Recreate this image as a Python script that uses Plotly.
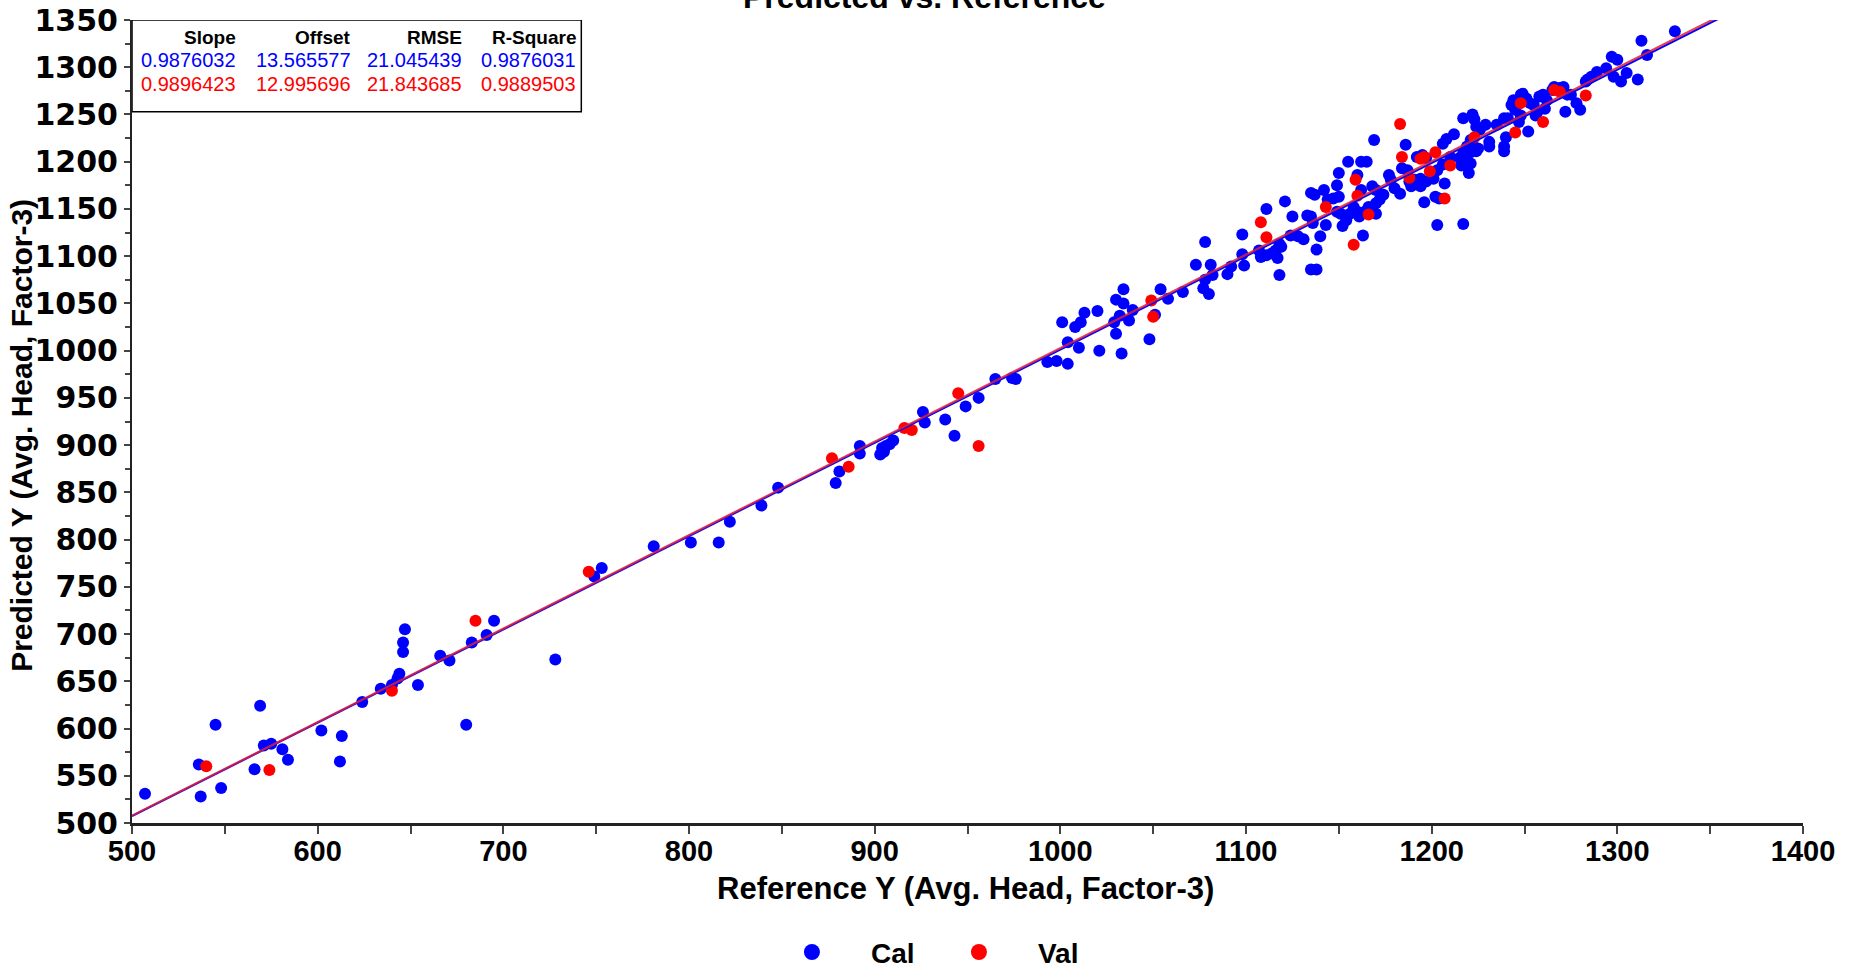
import plotly.graph_objects as go

# ---------------- data ----------------
cal_x = [507, 536, 537, 545, 548, 566, 569, 571, 575, 581, 584, 602, 613, 612, 624, 634, 640, 643, 644, 646,
         646, 647, 654, 666, 671, 680, 683, 691, 695, 728,
         749, 753, 781, 801, 816, 822, 839, 848, 881, 879, 892, 892, 903, 904, 906, 908, 910, 905, 926, 927,
         938, 943,
         949, 956, 965, 974, 976, 993, 998, 1004, 1004, 1001, 1008, 1011, 1013, 1010, 1020, 1021, 1030, 1029,
         1030, 1032, 1034, 1034, 1033, 1037, 1039, 1051, 1048, 1054, 1058, 1066, 1073, 1078, 1081, 1077, 1080,
         1078, 1082, 1090, 1092, 1099, 1098, 1098, 1111, 1107, 1108, 1111, 1114, 1116, 1118, 1118,
         1119, 1117, 1121, 1125, 1124, 1128, 1131, 1133, 1135, 1135, 1137, 1135, 1138, 1138, 1140, 1136, 1142,
         1144, 1143, 1147, 1150, 1149, 1151, 1150, 1149, 1155, 1152, 1154, 1156, 1158, 1160, 1162, 1165, 1163,
         1161, 1160, 1164, 1166, 1162, 1169, 1168, 1170, 1170, 1172, 1174, 1170, 1177, 1178, 1180, 1183, 1184,
         1187, 1186, 1188, 1189, 1191, 1194, 1192, 1195, 1197, 1196, 1194, 1197, 1201, 1203, 1202, 1204, 1207,
         1203, 1206, 1206, 1208, 1212, 1210, 1215, 1216, 1219, 1221, 1217, 1217, 1220, 1222, 1224, 1222,
         1223, 1221, 1219, 1217, 1218, 1221, 1224, 1225, 1226, 1229, 1231, 1231, 1235, 1239, 1239, 1239, 1240,
         1241, 1243, 1244, 1245, 1247, 1248, 1248, 1249, 1251, 1252, 1253, 1255, 1256, 1257, 1258, 1260, 1261,
         1262, 1265, 1266, 1269, 1271, 1273, 1272, 1275, 1278, 1280, 1283, 1284, 1286, 1289, 1294, 1297, 1300,
         1298, 1302, 1305, 1311, 1313, 1316, 1331]
cal_y = [531, 562, 528, 604, 537, 557, 624, 582, 584, 578, 567, 598, 592, 565, 628, 642, 646, 653, 658, 681,
         691, 705, 646, 677, 672, 604, 691, 699, 714, 673,
         761, 770, 793, 797, 797, 819, 836, 855, 872, 860, 899, 891, 890, 897, 899, 901, 905, 893, 935, 924,
         927, 910,
         941, 950, 970, 971, 970, 988, 989, 986, 1009, 1030, 1025, 1030, 1040, 1003, 1042, 1000, 1018, 1030,
         1054, 1037, 1065, 1050, 997, 1032, 1043, 1038, 1012, 1065, 1055, 1062, 1091, 1115, 1091, 1066, 1060,
         1075, 1080, 1081, 1089, 1090, 1123, 1102, 1150, 1106, 1099, 1101, 1103, 1106, 1113, 1080,
         1110, 1098, 1158, 1142, 1122, 1121, 1118, 1143, 1142, 1167, 1165, 1086, 1086, 1107, 1121, 1135, 1170,
         1160, 1133, 1161, 1163, 1147, 1145, 1188, 1175, 1200, 1132, 1138, 1145, 1152, 1186, 1200, 1200, 1122,
         1142, 1147, 1147, 1152, 1170, 1223, 1174, 1170, 1156, 1160, 1165, 1145, 1186, 1181, 1172, 1166, 1193,
         1191, 1218, 1179, 1174, 1181, 1182, 1205, 1207, 1204, 1157, 1174, 1179, 1182, 1133, 1163, 1161, 1177,
         1191, 1197, 1219, 1224, 1229, 1205, 1204, 1196, 1202, 1210, 1246, 1134, 1188, 1250, 1237, 1218,
         1245, 1223, 1216, 1209, 1202, 1198, 1211, 1214, 1234, 1239, 1221, 1216, 1239, 1246, 1216, 1211, 1226,
         1246, 1260, 1265, 1255, 1242, 1249, 1271, 1272, 1267, 1232, 1262, 1260, 1249, 1253, 1269, 1271, 1256,
         1265, 1276, 1279, 1278, 1279, 1271, 1253, 1271, 1262, 1255, 1285, 1287, 1290, 1295, 1299, 1311, 1308,
         1290, 1285, 1294, 1287, 1328, 1313, 1338]

val_x = [540, 574, 640, 685, 746, 877, 886, 916, 920, 945, 956, 1049, 1050, 1108, 1111, 1143, 1159, 1160,
         1158, 1166, 1183, 1184, 1188, 1194, 1196, 1199, 1202, 1207, 1210, 1223, 1248, 1245, 1260, 1266,
         1269, 1283]
val_y = [560, 556, 640, 714, 766, 886, 877, 918, 916, 955, 899, 1053, 1036, 1136, 1120, 1152, 1181, 1164,
         1112, 1144, 1240, 1205, 1183, 1203, 1205, 1190, 1210, 1161, 1196, 1226, 1262, 1231, 1242, 1276,
         1274, 1270]

series_names = ["Cal", "Val"]
stat_headers = ["Slope", "Offset", "RMSE", "R-Square"]
cal_stats = ["0.9876032", "13.565577", "21.045439", "0.9876031"]
val_stats = ["0.9896423", "12.995696", "21.843685", "0.9889503"]
cal_slope, cal_offset = 0.9876032, 13.565577
val_slope, val_offset = 0.9896423, 12.995696

x_range = [500, 1400]
y_range = [500, 1350]

title_text = "Predicted vs. Reference"
x_title = "Reference Y (Avg. Head, Factor-3)"
y_title = "Predicted Y (Avg. Head, Factor-3)"

# ---------------- figure ----------------
BLUE = "#0000ff"
RED = "#ff0000"
SANS = "Liberation Sans, Arial, sans-serif"

fig = go.Figure()

fig.add_trace(go.Scatter(x=cal_x, y=cal_y, mode="markers", name=series_names[0],
                         marker=dict(color=BLUE, size=12), showlegend=False))
fig.add_trace(go.Scatter(x=val_x, y=val_y, mode="markers", name=series_names[1],
                         marker=dict(color=RED, size=12), showlegend=False))

# regression lines
lx = x_range
fig.add_trace(go.Scatter(x=lx, y=[cal_slope * v + cal_offset for v in lx], mode="lines",
                         line=dict(color=BLUE, width=2), showlegend=False, hoverinfo="skip"))
fig.add_trace(go.Scatter(x=lx, y=[val_slope * v + val_offset for v in lx], mode="lines",
                         line=dict(color="rgba(220,30,60,0.85)", width=2.2), showlegend=False,
                         hoverinfo="skip"))

# legend entries
fig.add_trace(go.Scatter(x=[None], y=[None], mode="markers", name=series_names[0],
                         marker=dict(color=BLUE, size=20)))
fig.add_trace(go.Scatter(x=[None], y=[None], mode="markers", name=series_names[1],
                         marker=dict(color=RED, size=20)))

# stats box
fig.add_shape(type="rect", xref="x", yref="y", x0=500, x1=742, y0=1253, y1=1350,
              line=dict(color="black", width=1.5), fillcolor="white", layer="above")

col_right = [557, 619, 679, 740]
row_y = [1331, 1308, 1282]
for i in range(4):
    fig.add_annotation(x=col_right[i], y=row_y[0], xref="x", yref="y", text=stat_headers[i],
                       showarrow=False, xanchor="right", yanchor="middle",
                       font=dict(family=SANS, size=19, color="black", weight="bold"))
    fig.add_annotation(x=col_right[i], y=row_y[1], xref="x", yref="y", text=cal_stats[i],
                       showarrow=False, xanchor="right", yanchor="middle",
                       font=dict(family=SANS, size=20, color=BLUE))
    fig.add_annotation(x=col_right[i], y=row_y[2], xref="x", yref="y", text=val_stats[i],
                       showarrow=False, xanchor="right", yanchor="middle",
                       font=dict(family=SANS, size=20, color=RED))

# title (partially cut at top, as in the reference) and axis titles
fig.add_annotation(x=0.474, y=1.004, xref="paper", yref="paper", text=title_text, showarrow=False,
                   xanchor="center", yanchor="bottom",
                   font=dict(family=SANS, size=32, color="black", weight="bold"))
fig.add_annotation(x=0.499, y=-0.081, xref="paper", yref="paper", text=x_title, showarrow=False,
                   xanchor="center", yanchor="middle",
                   font=dict(family=SANS, size=31, color="black", weight="bold"))
fig.add_annotation(x=-0.0662, y=0.4826, xref="paper", yref="paper", text=y_title, showarrow=False,
                   textangle=-90, xanchor="center", yanchor="middle",
                   font=dict(family=SANS, size=30, color="black", weight="bold"))

fig.update_layout(
    width=1850, height=973, autosize=False,
    margin=dict(l=132, r=47, t=20, b=150, autoexpand=False),
    plot_bgcolor="white", paper_bgcolor="white",
    legend=dict(orientation="h", x=0.3716, y=-0.161, xanchor="left", yanchor="middle",
                font=dict(family=SANS, size=28, color="black", weight="bold"),
                itemwidth=108, entrywidth=44, entrywidthmode="pixels",
                bgcolor="rgba(0,0,0,0)"),
    xaxis=dict(range=x_range, dtick=100, tick0=500, showgrid=False, zeroline=False,
               showline=True, linecolor="#222", linewidth=2.5, ticks="outside", ticklen=8,
               tickcolor="#444", tickwidth=1.5, ticklabelstandoff=-8, ticklabeloverflow="allow",
               minor=dict(dtick=50, ticks="outside", ticklen=8, tickcolor="#444", tickwidth=1.5,
                          showgrid=False),
               tickfont=dict(family=SANS, size=29, color="black", weight="bold")),
    yaxis=dict(range=y_range, dtick=50, tick0=500, showgrid=False, zeroline=False,
               showline=True, linecolor="#222", linewidth=2, ticks="outside", ticklen=6,
               tickcolor="#444", tickwidth=1.5, ticklabeloverflow="allow",
               minor=dict(dtick=25, ticks="outside", ticklen=5, tickcolor="#444", tickwidth=1.5,
                          showgrid=False),
               tickfont=dict(family="DejaVu Sans, Verdana, sans-serif", size=30, color="black",
                             weight="bold")),
)

fig.write_html(
    "out.html",
    config={"displayModeBar": False},
    post_script="document.body.style.margin='0px';document.documentElement.style.overflow='hidden';",
)
